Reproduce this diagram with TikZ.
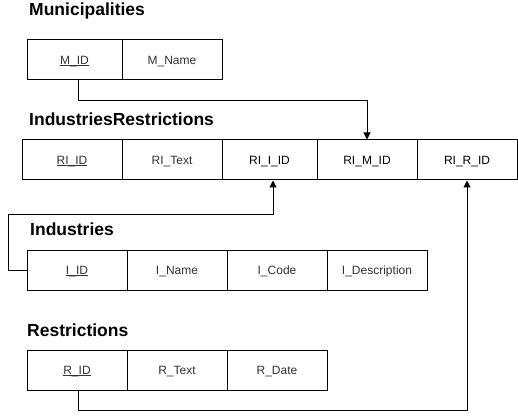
\documentclass[tikz,border=0pt]{standalone}
\usepackage{fontspec}
\setmainfont{Liberation Sans}
\usetikzlibrary{arrows.meta}
\definecolor{fieldgray}{HTML}{333333}
\newcommand\keyu[1]{\setbox0\hbox{#1}\rlap{\rule[-1.8pt]{\wd0}{0.75pt}}\box0}
\tikzset{
  cell/.style={draw, line width=1pt, minimum height=40pt, inner sep=0pt, text height=8.6pt, text depth=0pt, font=\fontsize{12}{14}\selectfont, text=fieldgray},
  fk/.style={text=black},
  ttl/.style={anchor=base west, inner sep=0pt, font=\fontsize{17.5}{20}\selectfont\bfseries},
  conn/.style={line width=1pt, -{Triangle[length=7pt,width=7pt]}},
}
\begin{document}
\begin{tikzpicture}[x=1pt,y=-1pt]
\useasboundingbox[fill=white] (0,0) rectangle (518,419);
% Municipalities
\node[ttl] (tm) at (29,15.5) {Municipalities};
\node[cell, minimum width=95pt] (mid) at (74.5,60) {\keyu{M\_ID}};
\node[cell, minimum width=100pt] (mname) at (172,60) {M\_Name};
% IndustriesRestrictions
\node[ttl] (tri) at (29,126) {IndustriesRestrictions};
\node[cell, minimum width=100pt] (riid) at (72,160) {\keyu{RI\_ID}};
\node[cell, minimum width=100pt] (ritext) at (172,160) {RI\_Text};
\node[cell, fk, minimum width=95pt] (riiid) at (269.5,160) {RI\_I\_ID};
\node[cell, fk, minimum width=100pt] (rimid) at (367,160) {RI\_M\_ID};
\node[cell, fk, minimum width=100pt] (ririd) at (467,160) {RI\_R\_ID};
% Industries
\node[ttl] (ti) at (30,236) {Industries};
\node[cell, minimum width=100pt] (iid) at (77,270) {\keyu{I\_ID}};
\node[cell, minimum width=100pt] (iname) at (177,270) {I\_Name};
\node[cell, minimum width=100pt] (icode) at (277,270) {I\_Code};
\node[cell, minimum width=100pt] (idesc) at (377,270) {I\_Description};
% Restrictions
\node[ttl] (tr) at (27,336) {Restrictions};
\node[cell, minimum width=100pt] (rid) at (77,370) {\keyu{R\_ID}};
\node[cell, minimum width=100pt] (rtext) at (177,370) {R\_Text};
\node[cell, minimum width=100pt] (rdate) at (277,370) {R\_Date};
% connectors
\coordinate (bendI) at (8,215);
\draw[conn] ([xshift=3.5pt]mid.south) -- ++(0,20) -| (rimid.north);
\draw[conn] (iid.west) -| (bendI) -| ([xshift=3.5pt]riiid.south);
\draw[conn] ([xshift=1pt]rid.south) -- ++(0,20) -| (ririd.south);
\end{tikzpicture}
\end{document}
